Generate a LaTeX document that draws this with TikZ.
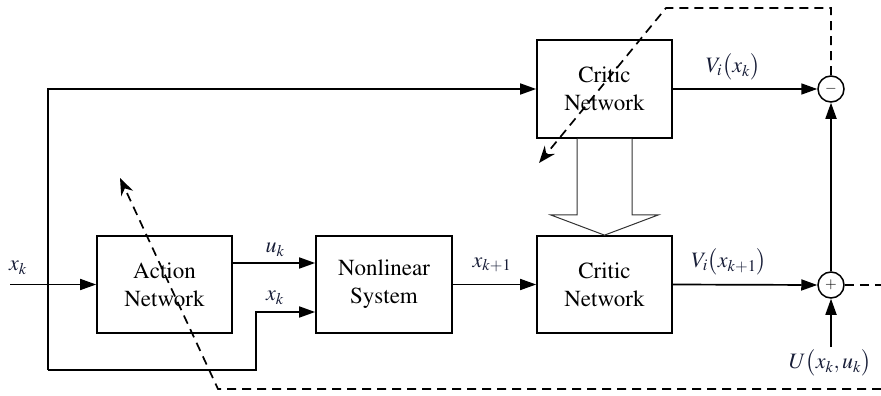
\documentclass[tikz,border=0pt]{standalone}
\usepackage[T1]{fontenc}
\usepackage{mathptmx}
\usetikzlibrary{arrows.meta,calc}

\definecolor{lblcol}{RGB}{24,30,56}

\tikzset{
  blockbox/.style={draw, line width=1.7pt, minimum width=135pt, minimum height=97pt,
    align=center, inner sep=0pt,
    font=\fontencoding{T1}\fontfamily{ptm}\fontsize{23}{28}\selectfont},
  sumnode/.style={draw, circle, line width=1.5pt, minimum size=26pt, inner sep=0pt,
    font=\fontsize{15}{15}\selectfont},
  sig/.style={line width=1.7pt, -{Triangle[length=16pt,width=11pt]}},
  fbdash/.style={line width=1.7pt, dash pattern=on 9pt off 6pt},
  fbarrow/.style={fbdash, -{Stealth[length=17pt,width=13pt]}},
  lbl/.style={text=lblcol, inner sep=0pt, font=\fontsize{22}{22}\selectfont},
  hollow/.style={draw=black!80, line width=1pt, fill=white}
}

\begin{document}
\begin{tikzpicture}[x=1pt, y=-1pt]
  \useasboundingbox (0,0) rectangle (881,396);

  % blocks
  \node[blockbox] (act) at (164.5,284.5) {Action\\Network};
  \node[blockbox, minimum width=136pt] (nls) at (384,284.5) {Nonlinear\\System};
  \node[blockbox] (crb) at (604.5,284.5) {Critic\\Network};
  \node[blockbox, minimum height=98pt] (crt) at (604.5,89) {Critic\\Network};

  % summing junctions
  \node[sumnode] (minus) at (831,89) {$-$};
  \node[sumnode] (plus) at (831,285) {$+$};

  % helper points
  \coordinate (xin) at (10,284.5);
  \coordinate (lt) at (48,89);
  \coordinate (lb) at (48,370);
  \coordinate (jog) at (256,370);
  \coordinate (usrc) at (831,347);

  % hollow arrow from the upper critic to the lower one
  \draw[hollow]
    ($(crt.south)+(-27.5,0)$) -- ($(crt.south)+(-27.5,76)$) --
    ($(crt.south)+(-54,76)$) -- (crb.north) --
    ($(crt.south)+(54,76)$) -- ($(crt.south)+(27.5,76)$) --
    ($(crt.south)+(27.5,0)$);

  % signal paths
  \draw[sig] (xin) -- (act.west);
  \draw[sig] (lb) -- (lt) -- (crt.west);
  \draw[sig] (lb) -- (jog) |- ([yshift=-27.5pt]nls.west);
  \draw[sig] ([yshift=21.5pt]act.east) -- ([yshift=21.5pt]nls.west);
  \draw[sig] (nls.east) -- (crb.west);
  \draw[sig] (crb.east) -- (plus.west);
  \draw[sig] (crt.east) -- (minus.west);
  \draw[sig] (plus.north) -- (minus.south);
  \draw[sig] (usrc) -- (plus.south);

  % dashed update paths
  \coordinate (dtr) at (831,8);
  \coordinate (dtl) at (666,8);
  \coordinate (dtip) at (539,163);
  \draw[fbarrow] (minus.north) -- (dtr) -- (dtl) -- (dtip);

  \coordinate (dre) at (881,285);
  \draw[fbdash] (plus.east) -- (dre);

  \coordinate (dbr) at (881,389);
  \coordinate (dbl) at (218,389);
  \coordinate (atip) at (120,178);
  \draw[fbarrow] (dbr) -- (dbl) -- (atip);

  % labels
  \node[lbl] (lxin) at (18,268) {$x_k$};
  \node[lbl] (luk) at (275,250) {$u_k$};
  \node[lbl] (lxk) at (275,298) {$x_k$};
  \node[lbl] (lxk1) at (492,265) {$x_{k+1}$};
  \node[lbl] (lvk1) at (729,262) {$V_i\bigl(x_{k+1}\bigr)$};
  \node[lbl] (lvk) at (733,67) {$V_i\bigl(x_k\bigr)$};
  \node[lbl] (lu) at (830,363) {$U\bigl(x_k,u_k\bigr)$};
\end{tikzpicture}
\end{document}
